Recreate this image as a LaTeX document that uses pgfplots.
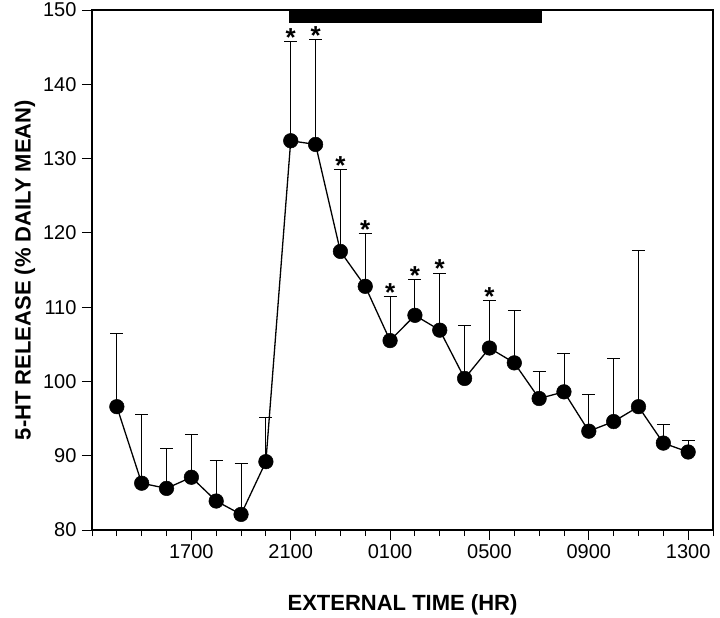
\documentclass[border=0pt]{standalone}
\usepackage{pgfplots}
\pgfplotsset{compat=1.18}
\usepackage{fontspec}
\setmainfont{Liberation Sans}
\begin{document}
\begin{tikzpicture}
\begin{axis}[
  scale only axis,
  width=621pt, height=520pt,
  xmin=13, xmax=38, ymin=80, ymax=150,
  axis line style={line width=1.1pt},
  xtick={17,21,25,29,33,37},
  xticklabels={1700,2100,0100,0500,0900,1300},
  minor xtick={13,14,...,38},
  ytick={80,90,...,150},
  tick align=outside,
  tick pos=left,
  major tick length=10pt,
  minor tick length=6pt,
  every tick/.style={black, line width=0.9pt},
  tick label style={font=\fontsize{20}{20}\selectfont},
  /pgf/number format/assume math mode=true,
  xticklabel style={yshift=-1pt},
  yticklabel style={xshift=-2pt},
  xlabel={\textbf{EXTERNAL TIME (HR)}},
  ylabel={\textbf{5-HT RELEASE (\% DAILY MEAN)}},
  label style={font=\fontsize{22}{22}\selectfont},
  xlabel style={at={(axis description cs:0.5,0)}, anchor=center, yshift=-75pt},
  ylabel style={at={(axis description cs:-0.108,0.5)}, anchor=center},
  clip=false,
]
% lights-off bar
\addplot[fill=black, draw=none] coordinates {(20.92,148.3) (31.12,148.3) (31.12,150) (20.92,150)} -- cycle;
% data
\addplot[black, line width=1.3pt, mark=*, mark size=7.3pt, mark options={fill=black, line width=0.5pt},
  error bars/.cd, y dir=plus, y explicit,
  error mark=-, error mark options={rotate=90, line width=0.9pt, mark size=6.5pt},
  error bar style={line width=0.9pt}]
  coordinates {
  (14,96.6) +- (0,9.8)
  (15,86.3) +- (0,9.2)
  (16,85.6) +- (0,5.4)
  (17,87.1) +- (0,5.7)
  (18,83.9) +- (0,5.4)
  (19,82.1) +- (0,6.9)
  (20,89.2) +- (0,6.0)
  (21,132.4) +- (0,13.3)
  (22,131.9) +- (0,14.1)
  (23,117.5) +- (0,11.0)
  (24,112.8) +- (0,7.1)
  (25,105.5) +- (0,5.9)
  (26,108.9) +- (0,4.8)
  (27,106.9) +- (0,7.7)
  (28,100.4) +- (0,7.1)
  (29,104.5) +- (0,6.4)
  (30,102.5) +- (0,7.1)
  (31,97.7) +- (0,3.6)
  (32,98.6) +- (0,5.2)
  (33,93.3) +- (0,5.0)
  (34,94.6) +- (0,8.5)
  (35,96.6) +- (0,21.0)
  (36,91.7) +- (0,2.5)
  (37,90.5) +- (0,1.5)
  };
% significance asterisks
\addplot[draw=none, mark=none, nodes near coords={\textbf{*}},
  every node near coord/.append style={font=\fontsize{26}{26}\selectfont, anchor=base, inner sep=0pt, yshift=-5pt}]
  coordinates {(21,145.7) (22,146.0) (23,128.5) (24,119.9) (25,111.4) (26,113.7) (27,114.6) (29,110.9)};
\end{axis}
\pgfresetboundingbox
\useasboundingbox (-92pt,-88pt) rectangle (628pt,530pt);
\end{tikzpicture}
\end{document}
